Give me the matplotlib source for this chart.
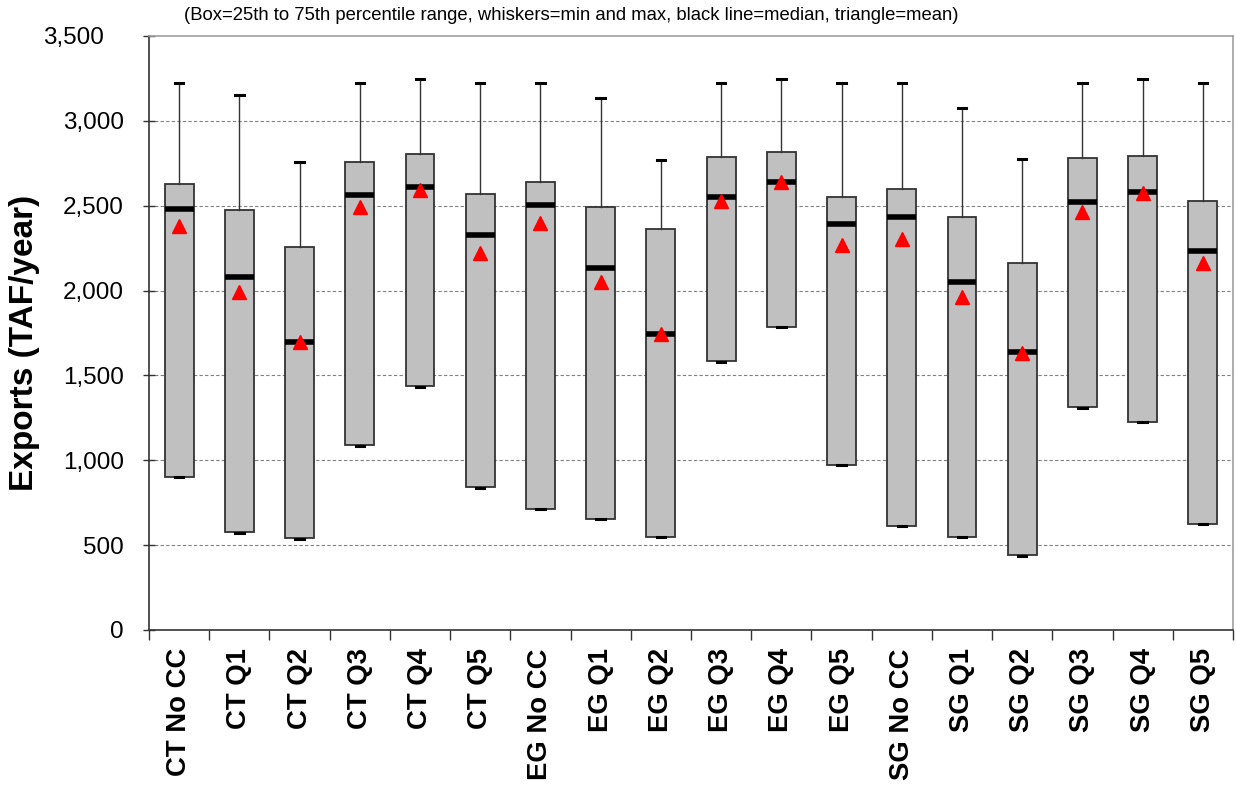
import matplotlib
matplotlib.use("Agg")
import matplotlib.pyplot as plt
from matplotlib.ticker import FuncFormatter, FixedLocator
from matplotlib.transforms import ScaledTranslation
import numpy as np

plt.rcParams['font.family'] = ['Liberation Sans', 'DejaVu Sans']

categories = ["CT No CC", "CT Q1", "CT Q2", "CT Q3", "CT Q4", "CT Q5",
              "EG No CC", "EG Q1", "EG Q2", "EG Q3", "EG Q4", "EG Q5",
              "SG No CC", "SG Q1", "SG Q2", "SG Q3", "SG Q4", "SG Q5"]
maxima = [3226, 3155, 2759, 3226, 3245, 3222, 3226, 3133, 2767, 3226, 3245, 3226,
          3226, 3075, 2775, 3222, 3245, 3222]
p75 = [2626, 2473, 2255, 2755, 2802, 2567, 2638, 2494, 2361, 2788, 2814, 2553,
       2598, 2432, 2165, 2782, 2794, 2526]
medians = [2481, 2079, 1696, 2565, 2612, 2330, 2506, 2132, 1745, 2553, 2638, 2394,
           2434, 2053, 1638, 2520, 2579, 2232]
means = [2378, 1991, 1697, 2494, 2595, 2220, 2400, 2050, 1745, 2530, 2640, 2269,
         2302, 1965, 1630, 2465, 2575, 2162]
p25 = [904, 575, 541, 1088, 1435, 840, 714, 655, 549, 1584, 1786, 972,
       613, 548, 439, 1312, 1225, 626]
minima = [902, 573, 539, 1086, 1433, 838, 712, 653, 547, 1582, 1784, 970,
          611, 546, 437, 1310, 1223, 624]
yticks = [0, 500, 1000, 1500, 2000, 2500, 3000, 3500]
title = "(Box=25th to 75th percentile range, whiskers=min and max, black line=median, triangle=mean)"
ylabel = "Exports (TAF/year)"

fig = plt.figure(figsize=(12.36, 7.93), dpi=100)
ax = fig.add_axes([149/1236, 1 - 630/793, (1233-149)/1236, (630-36)/793])

stats = []
for i, c in enumerate(categories):
    stats.append(dict(label=c, med=medians[i], q1=p25[i], q3=p75[i],
                      whislo=minima[i], whishi=maxima[i], mean=means[i], fliers=[]))

pos = np.arange(len(categories))
ax.bxp(stats, positions=pos, widths=0.48, patch_artist=True, showmeans=True,
       showfliers=False, capwidths=0.14,
       boxprops=dict(facecolor="#C0C0C0", edgecolor="#333333", linewidth=1.3),
       whiskerprops=dict(color="#333333", linewidth=1.0),
       capprops=dict(color="black", linewidth=2.2),
       medianprops=dict(color="black", linewidth=4.0, solid_capstyle="butt"),
       meanprops=dict(marker="^", markerfacecolor="red", markeredgecolor="red",
                      markersize=10),
       zorder=3)

ax.set_xlim(-0.5, len(categories) - 0.5)
ax.set_ylim(0, 3500)
ax.set_yticks(yticks)
ax.yaxis.set_major_formatter(FuncFormatter(lambda v, p: f"{int(v):,}"))
ax.tick_params(axis="y", labelsize=17.5, direction="inout", length=8, width=1,
               color="#333333", pad=14)
# the top label sits further left in the reference
top_lab = ax.get_yticklabels()[-1]
top_lab.set_transform(top_lab.get_transform() + ScaledTranslation(-0.20, 0, fig.dpi_scale_trans))

ax.set_xticks(pos)
ax.set_xticklabels(categories, rotation=90, fontsize=19.8, fontweight="bold")
ax.tick_params(axis="x", which="major", length=0, pad=13)
ax.xaxis.set_minor_locator(FixedLocator(np.arange(-0.5, len(categories), 1.0)))
ax.tick_params(axis="x", which="minor", length=7, width=1, color="#333333", direction="out")

for y in yticks[1:-1]:
    ax.axhline(y, color="#808080", linestyle=(0, (3, 2)), linewidth=0.8, zorder=1)

ax.spines["left"].set_color("#333333")
ax.spines["bottom"].set_color("#333333")
ax.spines["top"].set_color("#A0A0A0")
ax.spines["right"].set_color("#A0A0A0")
for s in ax.spines.values():
    s.set_linewidth(1.2)

ax.set_ylabel(ylabel, fontsize=24, fontweight="bold")
ax.yaxis.set_label_coords((40 - 149) / 1084, (630 - 343) / 594)
fig.text(571 / 1236, 1 - 7 / 793, title, ha="center", va="top", fontsize=13.3)

fig.savefig("out.png", dpi=100)
